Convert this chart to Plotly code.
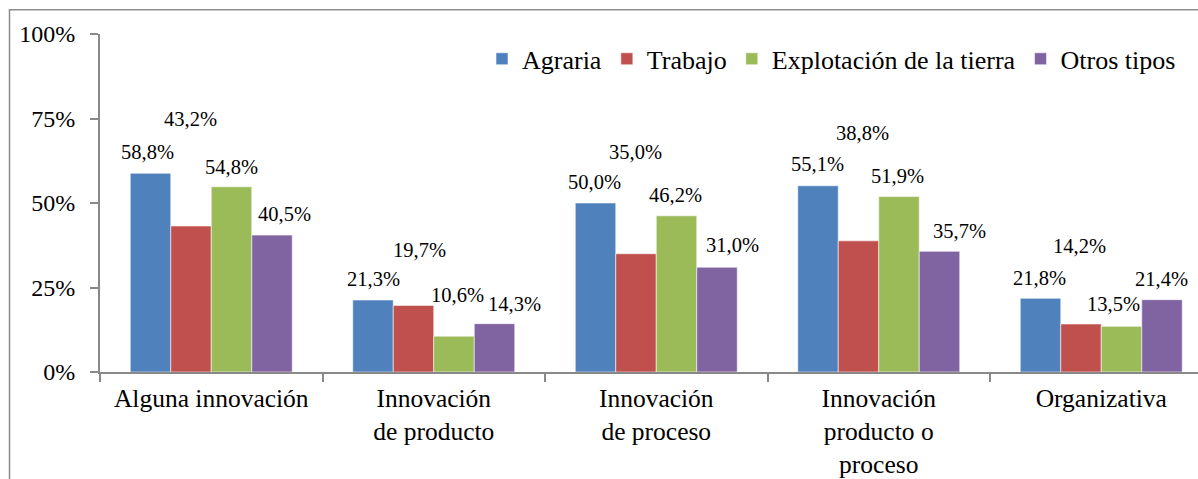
import plotly.graph_objects as go

categories = ["Alguna innovación", "Innovación<br>de producto", "Innovación<br>de proceso",
              "Innovación<br>producto o<br>proceso", "Organizativa"]
series_names = ["Agraria", "Trabajo", "Explotación de la tierra", "Otros tipos"]
agraria = [58.8, 21.3, 50.0, 55.1, 21.8]
trabajo = [43.2, 19.7, 35.0, 38.8, 14.2]
explotacion = [54.8, 10.6, 46.2, 51.9, 13.5]
otros = [40.5, 14.3, 31.0, 35.7, 21.4]
series_values = [agraria, trabajo, explotacion, otros]
y_tick_values = [0, 25, 50, 75, 100]
y_tick_labels = ["0%", "25%", "50%", "75%", "100%"]
colors = ["#4F81BD", "#C0504D", "#9BBB59", "#8064A2"]

# label nudges (pixels): vertical distance of label centre above bar top, horizontal nudge
label_dy = [[21, 21, 21, 22, 20], [107, 55, 102, 108, 78], [20, 41, 21, 21, 22], [21, 20, 22, 20, 21]]
label_dx = [[-3, 0, -1, -1, -1], [-1, 6, -1, 4, -2], [0, 4, -1, -1, -8], [13, 20, 16, 20, 0]]

W, H = 1198, 479
ML, MR, MT, MB = 100, 0, 34, 105
plot_w = W - ML - MR
plot_h = H - MT - MB
cat_px = 222.5
x_range = [-0.5, -0.5 + plot_w / cat_px]
bargap = 0.272
bar_px = cat_px * (1 - bargap) / len(series_names)

FONT = "Liberation Serif"
AXIS_COLOR = "#898989"

fig = go.Figure()
for name, vals, col in zip(series_names, series_values, colors):
    fig.add_trace(go.Bar(name=name, x=categories, y=vals, marker_color=col,
                         marker_line_width=0.8, marker_line_color="rgba(255,255,255,0.7)"))

annotations = []
for i, vals in enumerate(series_values):
    for j, v in enumerate(vals):
        annotations.append(dict(
            x=categories[j], y=v, xref="x", yref="y",
            text=f"{v:.1f}%".replace(".", ","), showarrow=False,
            xshift=(i - 1.5) * bar_px + label_dx[i][j], yshift=label_dy[i][j],
            xanchor="center", yanchor="middle",
            font=dict(family=FONT, size=20.5, color="#000000")))

# outer chart frame
fx0 = (9.5 - ML) / plot_w
fy1 = 1 + (MT - 9.5) / plot_h
shapes = [dict(type="rect", xref="paper", yref="paper", x0=fx0, x1=1.05, y0=-0.6, y1=fy1,
               line=dict(color="#8c8c8c", width=1.5), fillcolor="rgba(0,0,0,0)", layer="below")]

fig.update_layout(
    width=W, height=H,
    margin=dict(l=ML, r=MR, t=MT, b=MB, pad=0),
    paper_bgcolor="white", plot_bgcolor="white",
    barmode="group", bargap=bargap, bargroupgap=0,
    font=dict(family=FONT, color="#000000"),
    showlegend=True,
    legend=dict(orientation="h", x=(1181 - ML) / plot_w, xanchor="right",
                y=1 + (MT - 59) / plot_h, yanchor="middle",
                font=dict(family=FONT, size=26), bgcolor="rgba(0,0,0,0)",
                traceorder="normal", itemwidth=30),
    annotations=annotations,
    shapes=shapes,
    xaxis=dict(type="category", range=x_range, showline=True, linecolor=AXIS_COLOR, linewidth=2,
               ticks="outside", tickson="boundaries", ticklen=8, tickcolor=AXIS_COLOR, tickwidth=2,
               ticklabelstandoff=2,
               showgrid=False, tickfont=dict(family=FONT, size=25.5, color="#000000")),
    yaxis=dict(range=[0, 100], tickmode="array", tickvals=y_tick_values, ticktext=y_tick_labels,
               showline=True, linecolor=AXIS_COLOR, linewidth=2, ticks="outside", ticklen=8,
               tickcolor=AXIS_COLOR, tickwidth=2, showgrid=False, zeroline=False,
               ticklabelstandoff=10, tickfont=dict(family=FONT, size=24, color="#000000")),
)

fig.write_html("out.html", config={"displayModeBar": False},
               post_script="document.body.style.margin='0px';document.body.style.overflow='hidden';")
